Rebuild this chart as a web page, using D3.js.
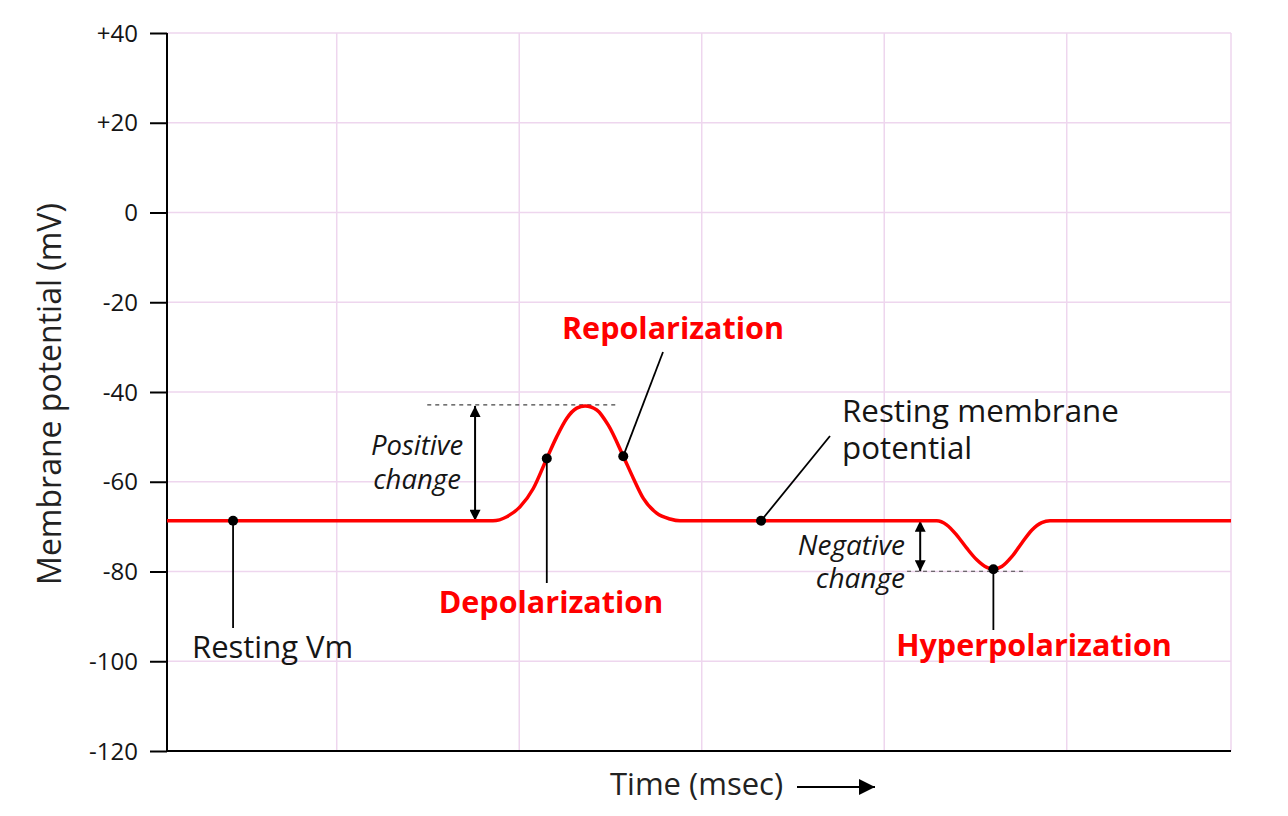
<!DOCTYPE html>
<html>
<head>
<meta charset="utf-8">
<script src="https://cdn.jsdelivr.net/npm/d3@7"></script>
<style>
  html, body { margin: 0; padding: 0; background: #fff; }
  svg { display: block; font-family: "Open Sans", "Noto Sans", sans-serif; }
</style>
</head>
<body>
<svg id="chart" width="1288" height="816"></svg>
<script>
// ---- Data ----
const yTicks = [40, 20, 0, -20, -40, -60, -80, -100, -120];
const yTickLabels = ["+40", "+20", "0", "-20", "-40", "-60", "-80", "-100", "-120"];
const timeGrid = [0, 1, 2, 3, 4];
const timeDomain = [-0.93, 4.9];
const voltageDomain = [-120, 40];

// Membrane potential trace (time, mV)
const traceTime = [-0.93, 0.856, 0.932, 1.004, 1.077, 1.151, 1.205, 1.260, 1.315, 1.361, 1.425, 1.488, 1.570,
                   1.625, 1.680, 1.753, 1.826, 1.881,
                   3.288, 3.342, 3.397, 3.452, 3.507, 3.562, 3.598, 3.644, 3.699, 3.753, 3.808, 3.863, 3.908, 4.9];
const traceMv   = [-68.7, -68.7, -67.8, -65.6, -61.5, -54.8, -50.0, -45.9, -43.6, -43.1, -44.0, -47.4, -54.3,
                   -59.2, -63.7, -67.0, -68.3, -68.7,
                   -68.7, -69.6, -71.9, -74.8, -77.4, -79.1, -79.5, -78.9, -76.7, -73.7, -70.8, -69.1, -68.7, -68.7];

const restingMv = -68.7;
const peakMv = -43.1;
const troughMv = -79.5;
// Marked points
const restingVmPoint = { t: -0.568, v: -68.7 };
const restingMembranePoint = { t: 2.325, v: -68.7 };
const depolPoint = { t: 1.151, v: -54.8 };
const repolPoint = { t: 1.570, v: -54.3 };
const hyperPoint = { t: 3.598, v: -79.5 };

// ---- Layout ----
const svg = d3.select("#chart");
const mLeft = 167, mRight = 1231, mTop = 33, mBottom = 751;
const x = d3.scaleLinear().domain(timeDomain).range([mLeft, mRight]);
const y = d3.scaleLinear().domain(voltageDomain).range([mBottom, mTop]);

const gridColor = "#eed6ee";
const red = "#ff0000";
const ink = "#151515";

// Grid lines
svg.append("g").selectAll("line").data(yTicks.filter(d => d > -120)).join("line")
  .attr("x1", mLeft).attr("x2", mRight)
  .attr("y1", d => y(d)).attr("y2", d => y(d))
  .attr("stroke", gridColor).attr("stroke-width", 1.5);
svg.append("g").selectAll("line").data(timeGrid).join("line")
  .attr("x1", d => x(d)).attr("x2", d => x(d))
  .attr("y1", mTop).attr("y2", mBottom)
  .attr("stroke", gridColor).attr("stroke-width", 1.5);
// right border
svg.append("line").attr("x1", mRight).attr("x2", mRight).attr("y1", mTop).attr("y2", mBottom)
  .attr("stroke", gridColor).attr("stroke-width", 1.5);

// Y axis
const yAxis = d3.axisLeft(y).tickValues(yTicks)
  .tickFormat((d, i) => yTickLabels[i]).tickSize(17).tickPadding(12);
const gy = svg.append("g").attr("transform", `translate(${mLeft},0)`).call(yAxis);
gy.select(".domain").attr("stroke", "#000").attr("stroke-width", 2).attr("d", `M0,${mTop}V${mBottom}`);
gy.selectAll(".tick line").attr("stroke", "#000").attr("stroke-width", 2);
gy.selectAll(".tick text").attr("font-size", 24).attr("fill", ink)
  .attr("font-family", "'Open Sans', sans-serif").attr("dy", "0.34em");

// Bottom axis line
svg.append("line").attr("x1", mLeft).attr("x2", mRight).attr("y1", mBottom).attr("y2", mBottom)
  .attr("stroke", "#000").attr("stroke-width", 2);

// Axis titles
svg.append("text").attr("transform", `translate(61,394) rotate(-90)`)
  .attr("text-anchor", "middle").attr("font-size", 32).attr("fill", "#222")
  .text("Membrane potential (mV)");
svg.append("text").attr("x", 610).attr("y", 795).attr("font-size", 31).attr("fill", "#222")
  .text("Time (msec)");

// Arrow markers
const defs = svg.append("defs");
defs.append("marker").attr("id", "arrowhead").attr("viewBox", "0 0 10 10")
  .attr("refX", 10).attr("refY", 5).attr("markerWidth", 16).attr("markerHeight", 16)
  .attr("markerUnits", "userSpaceOnUse").attr("orient", "auto-start-reverse")
  .append("path").attr("d", "M0,0 L10,5 L0,10 z").attr("fill", "#000");
defs.append("marker").attr("id", "smallhead").attr("viewBox", "0 0 10 10")
  .attr("refX", 10).attr("refY", 5).attr("markerWidth", 13).attr("markerHeight", 11)
  .attr("markerUnits", "userSpaceOnUse").attr("orient", "auto-start-reverse")
  .append("path").attr("d", "M0,0 L10,5 L0,10 z").attr("fill", "#000");

// Time arrow
svg.append("line").attr("x1", 797).attr("x2", 875).attr("y1", 787).attr("y2", 787)
  .attr("stroke", "#000").attr("stroke-width", 2).attr("marker-end", "url(#arrowhead)");

// Dashed reference lines
svg.append("line").attr("x1", x(0.496)).attr("x2", x(1.536)).attr("y1", y(peakMv) - 1).attr("y2", y(peakMv) - 1)
  .attr("stroke", "#444").attr("stroke-width", 1.2).attr("stroke-dasharray", "4,4");
svg.append("line").attr("x1", x(3.125)).attr("x2", x(3.783)).attr("y1", y(troughMv) + 2).attr("y2", y(troughMv) + 2)
  .attr("stroke", "#444").attr("stroke-width", 1.2).attr("stroke-dasharray", "4,4");

// Change arrows
svg.append("line").attr("x1", x(0.758)).attr("x2", x(0.758)).attr("y1", y(restingMv)).attr("y2", y(peakMv))
  .attr("stroke", "#000").attr("stroke-width", 2)
  .attr("marker-start", "url(#smallhead)").attr("marker-end", "url(#smallhead)");
svg.append("line").attr("x1", x(3.197)).attr("x2", x(3.197)).attr("y1", y(restingMv)).attr("y2", y(troughMv) + 2)
  .attr("stroke", "#000").attr("stroke-width", 2)
  .attr("marker-start", "url(#smallhead)").attr("marker-end", "url(#smallhead)");

// Trace
const traceData = traceTime.map((t, i) => ({ t, v: traceMv[i] }));
const line = d3.line().x(d => x(d.t)).y(d => y(d.v)).curve(d3.curveMonotoneX);
svg.append("path").datum(traceData).attr("d", line)
  .attr("fill", "none").attr("stroke", red).attr("stroke-width", 3.5);

// Leader lines
function leader(p, x2, y2) {
  svg.append("line").attr("x1", x(p.t)).attr("y1", y(p.v)).attr("x2", x2).attr("y2", y2)
    .attr("stroke", "#000").attr("stroke-width", 1.8);
}
leader(restingVmPoint, x(restingVmPoint.t), 628);
leader(depolPoint, x(depolPoint.t), 583);
leader(repolPoint, 663, 352);
leader(restingMembranePoint, 830, 436);
leader(hyperPoint, x(hyperPoint.t), 630);

// Dots
const pts = [restingVmPoint, restingMembranePoint, depolPoint, repolPoint, hyperPoint];
svg.append("g").selectAll("circle").data(pts).join("circle")
  .attr("cx", d => x(d.t)).attr("cy", d => y(d.v)).attr("r", 5).attr("fill", "#000");

// Labels
function label(txt, px, py, opts = {}) {
  return svg.append("text").attr("x", px).attr("y", py)
    .attr("font-size", opts.size || 30)
    .attr("fill", opts.color || ink)
    .attr("text-anchor", opts.anchor || "start")
    .attr("font-weight", opts.weight || "normal")
    .attr("font-style", opts.style || "normal")
    .text(txt);
}
label("Repolarization", 673, 339, { color: red, weight: "bold", anchor: "middle", size: 30.5 });
label("Depolarization", 551, 613, { color: red, weight: "bold", anchor: "middle", size: 30.5 });
label("Hyperpolarization", 1034, 656, { color: red, weight: "bold", anchor: "middle", size: 30.5 });
label("Resting Vm", 192, 658, { size: 31 });
label("Resting membrane", 842, 422, { size: 31.3 });
label("potential", 842, 459, { size: 31.3 });
label("Positive", 417, 455, { style: "italic", anchor: "middle", size: 27.5 });
label("change", 417, 489, { style: "italic", anchor: "middle", size: 27.5 });
label("Negative", 905, 555, { style: "italic", anchor: "end", size: 28 });
label("change", 905, 588, { style: "italic", anchor: "end", size: 28 });
</script>
</body>
</html>
